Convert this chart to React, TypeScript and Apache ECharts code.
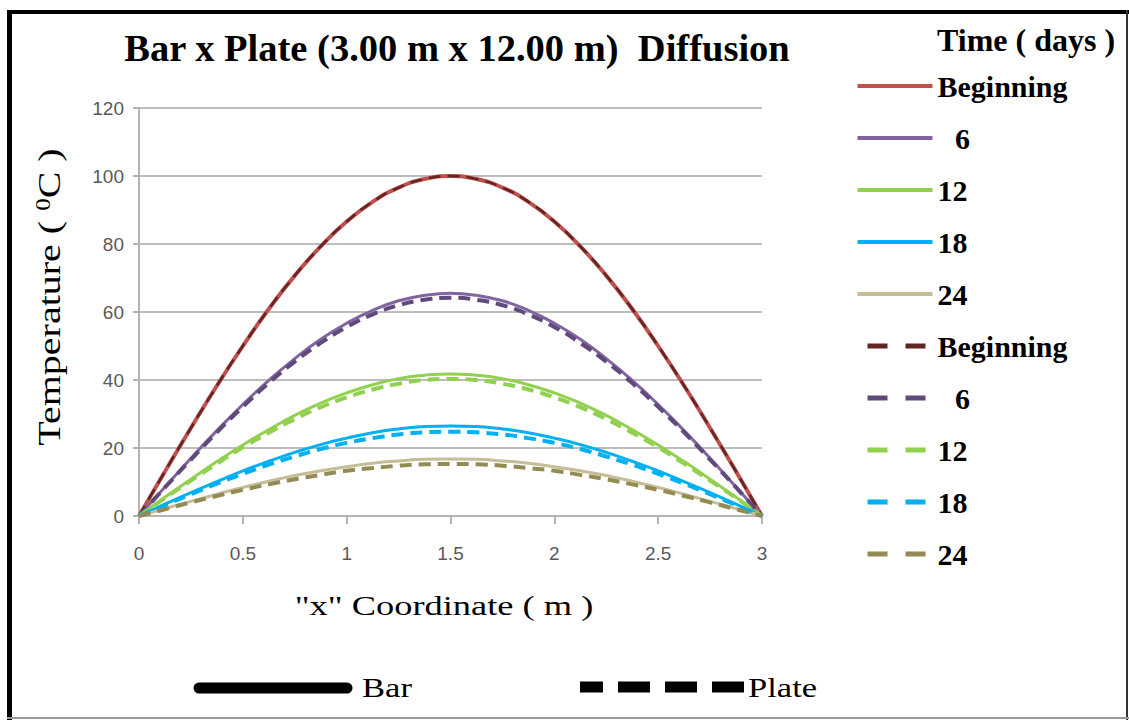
import React, { useEffect, useRef } from "react";
import * as echarts from "echarts";

// x coordinate (m)
const xValues = [
  0, 0.125, 0.25, 0.375, 0.5, 0.625, 0.75, 0.875, 1, 1.125, 1.25, 1.375, 1.5,
  1.625, 1.75, 1.875, 2, 2.125, 2.25, 2.375, 2.5, 2.625, 2.75, 2.875, 3,
];

// Bar temperatures (°C)
const barBeginning = [0, 13.1, 25.9, 38.3, 50, 60.9, 70.7, 79.3, 86.6, 92.4, 96.6, 99.1, 100, 99.1, 96.6, 92.4, 86.6, 79.3, 70.7, 60.9, 50, 38.3, 25.9, 13.1, 0];
const bar6 = [0, 8.5, 17.0, 25.1, 32.8, 39.9, 46.3, 52.0, 56.7, 60.5, 63.3, 64.9, 65.5, 64.9, 63.3, 60.5, 56.7, 52.0, 46.3, 39.9, 32.8, 25.1, 17.0, 8.5, 0];
const bar12 = [0, 5.5, 10.8, 16.0, 20.9, 25.4, 29.6, 33.2, 36.2, 38.6, 40.4, 41.4, 41.8, 41.4, 40.4, 38.6, 36.2, 33.2, 29.6, 25.4, 20.9, 16.0, 10.8, 5.5, 0];
const bar18 = [0, 3.5, 6.9, 10.1, 13.3, 16.1, 18.7, 21.0, 22.9, 24.5, 25.6, 26.3, 26.5, 26.3, 25.6, 24.5, 22.9, 21.0, 18.7, 16.1, 13.3, 10.1, 6.9, 3.5, 0];
const bar24 = [0, 2.2, 4.3, 6.4, 8.4, 10.2, 11.9, 13.3, 14.5, 15.5, 16.2, 16.7, 16.8, 16.7, 16.2, 15.5, 14.5, 13.3, 11.9, 10.2, 8.4, 6.4, 4.3, 2.2, 0];

// Plate temperatures (°C)
const plateBeginning = [0, 13.1, 25.9, 38.3, 50, 60.9, 70.7, 79.3, 86.6, 92.4, 96.6, 99.1, 100, 99.1, 96.6, 92.4, 86.6, 79.3, 70.7, 60.9, 50, 38.3, 25.9, 13.1, 0];
const plate6 = [0, 8.4, 16.6, 24.6, 32.1, 39.1, 45.4, 50.9, 55.6, 59.3, 62.0, 63.6, 64.2, 63.6, 62.0, 59.3, 55.6, 50.9, 45.4, 39.1, 32.1, 24.6, 16.6, 8.4, 0];
const plate12 = [0, 5.3, 10.4, 15.4, 20.2, 24.5, 28.5, 32.0, 34.9, 37.2, 38.9, 40.0, 40.3, 40.0, 38.9, 37.2, 34.9, 32.0, 28.5, 24.5, 20.2, 15.4, 10.4, 5.3, 0];
const plate18 = [0, 3.2, 6.4, 9.5, 12.4, 15.1, 17.5, 19.7, 21.5, 22.9, 24.0, 24.6, 24.8, 24.6, 24.0, 22.9, 21.5, 19.7, 17.5, 15.1, 12.4, 9.5, 6.4, 3.2, 0];
const plate24 = [0, 2.0, 4.0, 5.9, 7.7, 9.3, 10.8, 12.1, 13.3, 14.1, 14.8, 15.2, 15.3, 15.2, 14.8, 14.1, 13.3, 12.1, 10.8, 9.3, 7.7, 5.9, 4.0, 2.0, 0];

const timeLabels = ["Beginning", "\u2004\u20056", "12", "18", "24"];
const barColors = ["#C0504D", "#8064A2", "#92D050", "#00B0F0", "#C4BD97"];
const plateColors = ["#632523", "#604A7B", "#92D050", "#00B0F0", "#948A54"];
const barWidths = [4, 3, 3, 3, 3];
const plateWidths = [2.5, 4, 4, 4, 4];

const barSets = [barBeginning, bar6, bar12, bar18, bar24];
const plateSets = [plateBeginning, plate6, plate12, plate18, plate24];

const yTicks = { min: 0, max: 120, interval: 20 };
const xTicks = { min: 0, max: 3, interval: 0.5 };

const SERIF = "'Liberation Serif', 'Times New Roman', serif";
const SANS = "'Liberation Sans', Arial, sans-serif";

export default function App() {
  const ref = useRef<HTMLDivElement>(null);

  useEffect(() => {
    if (!ref.current) return;
    const chart = echarts.init(ref.current, undefined, { renderer: "svg" });

    const labelOf: Record<string, string> = {};
    const series: any[] = [];
    const legendData: any[] = [];

    barSets.forEach((vals, i) => {
      const name = "Bar " + i;
      labelOf[name] = timeLabels[i];
      series.push({
        name,
        type: "line",
        smooth: true,
        symbol: "none",
        data: xValues.map((x, k) => [x, vals[k]]),
        lineStyle: { color: barColors[i], width: barWidths[i] },
        itemStyle: { color: barColors[i] },
      });
      legendData.push({
        name,
        itemStyle: { opacity: 0 },
        lineStyle: { color: barColors[i], width: 4, type: "solid" },
      });
    });
    plateSets.forEach((vals, i) => {
      const name = "Plate " + i;
      labelOf[name] = timeLabels[i];
      series.push({
        name,
        type: "line",
        smooth: true,
        symbol: "none",
        data: xValues.map((x, k) => [x, vals[k]]),
        lineStyle: { color: plateColors[i], width: plateWidths[i], type: [12, 7] },
        itemStyle: { color: plateColors[i] },
      });
      legendData.push({
        name,
        itemStyle: { opacity: 0 },
        lineStyle: { color: plateColors[i], width: 5, type: [20, 18], dashOffset: -10 },
      });
    });

    chart.setOption({
      animation: false,
      backgroundColor: "#ffffff",
      title: {
        text: "Bar x Plate (3.00 m x 12.00 m)\u00a0 Diffusion",
        left: 452,
        top: 23,
        textAlign: "center",
        textStyle: { fontFamily: SERIF, fontSize: 38.5, fontWeight: "bold", color: "#000" },
      },
      grid: { left: 139, right: 367, top: 108, bottom: 204, containLabel: false },
      xAxis: {
        type: "value",
        min: xTicks.min,
        max: xTicks.max,
        interval: xTicks.interval,
        axisLine: { show: true, lineStyle: { color: "#B5B5B5", width: 2 } },
        axisTick: { show: true, length: 8, lineStyle: { color: "#B5B5B5", width: 2 } },
        axisLabel: { margin: 28, color: "#595959", fontSize: 19, fontFamily: SANS },
        splitLine: { show: false },
      },
      yAxis: {
        type: "value",
        min: yTicks.min,
        max: yTicks.max,
        interval: yTicks.interval,
        axisLine: { show: true, lineStyle: { color: "#B5B5B5", width: 2 } },
        axisTick: { show: true, length: 6, lineStyle: { color: "#B5B5B5", width: 2 } },
        axisLabel: { margin: 15, color: "#595959", fontSize: 19, fontFamily: SANS },
        splitLine: { show: true, lineStyle: { color: "#BDBDBD", width: 2 } },
      },
      legend: {
        orient: "vertical",
        left: 850,
        top: 66,
        itemWidth: 75,
        itemHeight: 14,
        itemGap: 22,
        data: legendData,
        formatter: (n: string) => labelOf[n] ?? n,
        textStyle: {
          fontFamily: SERIF,
          fontSize: 30,
          fontWeight: "bold",
          color: "#000",
          lineHeight: 30,
        },
      },
      graphic: [
        // frame
        { type: "rect", shape: { x: 7, y: 10, width: 5, height: 710 }, style: { fill: "#000" } },
        { type: "rect", shape: { x: 7, y: 10, width: 1122, height: 4 }, style: { fill: "#000" } },
        { type: "rect", shape: { x: 1126, y: 10, width: 2, height: 710 }, style: { fill: "#333" } },
        { type: "rect", shape: { x: 7, y: 717, width: 1122, height: 2 }, style: { fill: "#999" } },
        // legend header
        {
          type: "text",
          x: 937,
          y: 40,
          style: {
            text: "Time ( days )",
            font: "bold 32px " + SERIF,
            fill: "#000",
            textAlign: "left",
            textVerticalAlign: "middle",
          },
        },
        // y axis name
        {
          type: "text",
          x: 49,
          y: 297,
          rotation: Math.PI / 2,
          scaleY: 0.8,
          style: {
            text: "Temperature ( {sup|0}C )",
            font: "40px " + SERIF,
            fill: "#000",
            textAlign: "center",
            textVerticalAlign: "middle",
            rich: {
              sup: { fontSize: 25, fontFamily: SERIF, verticalAlign: "top", padding: [0, 0, 14, 0] },
            },
          },
        },
        // x axis name
        {
          type: "text",
          x: 444,
          y: 606,
          scaleX: 1.3,
          style: {
            text: "\"x\" Coordinate ( m )",
            font: "28px " + SERIF,
            fill: "#000",
            textAlign: "center",
            textVerticalAlign: "middle",
          },
        },
        // bottom legend
        {
          type: "line",
          shape: { x1: 199, y1: 688, x2: 347, y2: 688 },
          style: { stroke: "#000", lineWidth: 11, lineCap: "round" },
        },
        {
          type: "text",
          x: 362,
          y: 688,
          scaleX: 1.28,
          style: { text: "Bar", font: "27px " + SERIF, fill: "#000", textVerticalAlign: "middle" },
        },
        {
          type: "line",
          shape: { x1: 580, y1: 687, x2: 744, y2: 687 },
          style: { stroke: "#000", lineWidth: 11, lineCap: "butt", lineDash: [32, 15], lineDashOffset: 9 },
        },
        {
          type: "text",
          x: 748,
          y: 688,
          scaleX: 1.28,
          style: { text: "Plate", font: "27px " + SERIF, fill: "#000", textVerticalAlign: "middle" },
        },
      ],
      series,
    });

    return () => chart.dispose();
  }, []);

  return (
    <div
      ref={ref}
      style={{ position: "fixed", left: 0, top: 0, width: 1129, height: 720, background: "#fff" }}
    />
  );
}
